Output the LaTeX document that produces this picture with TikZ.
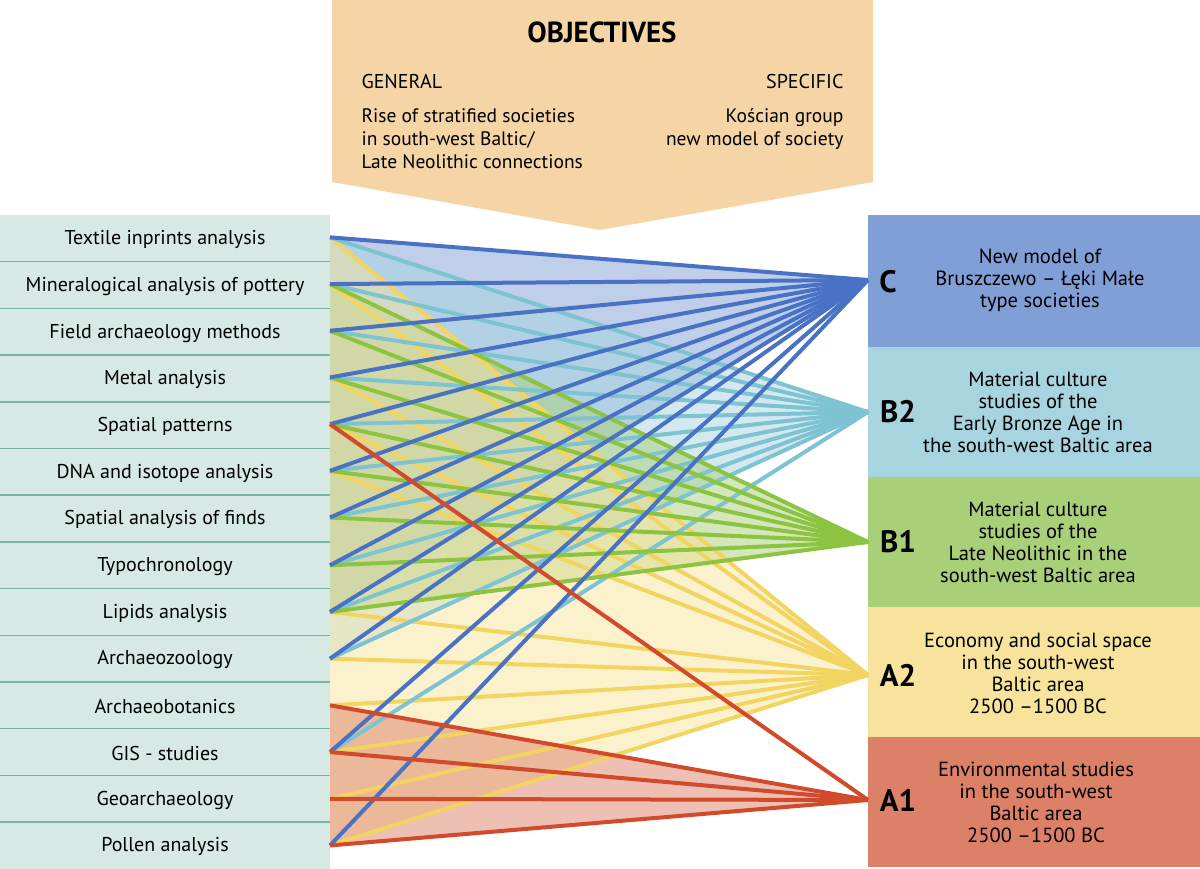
\documentclass[tikz,border=0pt]{standalone}
\usepackage{fontspec}
\setmainfont{PT Sans}
\begin{document}
\begin{tikzpicture}[x=1pt,y=-1pt,
  item/.style={anchor=center,font=\fontsize{20}{22}\selectfont},
  rtxt/.style={align=center,font=\fontsize{20.5}{22}\selectfont},
  letter/.style={font=\bfseries\fontsize{31}{31}\selectfont},
  ln/.style={line width=4pt},
  fl/.style={fill opacity=0.5}]
\definecolor{lbox}{HTML}{D6E9E5}
\definecolor{lsep}{HTML}{7BB1A8}
\definecolor{cC}{HTML}{809FD6}
\definecolor{cB2}{HTML}{A8D4DF}
\definecolor{cB1}{HTML}{A9CF79}
\definecolor{cA2}{HTML}{F7E39C}
\definecolor{cA1}{HTML}{DD8068}
\definecolor{obj}{HTML}{F5D4A6}
\definecolor{lC}{HTML}{4A72C4}
\definecolor{lB2}{HTML}{7DC3D1}
\definecolor{lB1}{HTML}{8CC340}
\definecolor{lA2}{HTML}{F2D461}
\definecolor{lA1}{HTML}{D24A2C}
\useasboundingbox (0,0) rectangle (1200,869);
% objectives
\fill[obj] (332,0) -- (873,0) -- (873,182) -- (600,230) -- (332,182) -- cycle;
\node[font=\bfseries\fontsize{29}{30}\selectfont] (title) at (602,32) {OBJECTIVES};
\node[anchor=west,font=\fontsize{20}{22}\selectfont] (gen) at (358,82) {GENERAL};
\node[anchor=east,font=\fontsize{20}{22}\selectfont] (spec) at (847,82) {SPECIFIC};
\node[anchor=north west,align=left,font=\fontsize{19.5}{23}\selectfont] (gtxt) at (358,105) {Rise of stratified societies\\in south-west Baltic/\\Late Neolithic connections};
\node[anchor=north east,align=right,font=\fontsize{19.5}{23}\selectfont] (stxt) at (847,105) {Kościan group\\new model of society};
% left column
\fill[lbox] (0,215) rectangle (330,869);
\foreach \i in {1,...,13} { \draw[lsep,line width=1.5pt] (0,{215+46.7*\i}) -- (330,{215+46.7*\i}); }
\foreach \t [count=\i] in {Textile inprints analysis,Mineralogical analysis of pottery,Field archaeology methods,Metal analysis,Spatial patterns,DNA and isotope analysis,Spatial analysis of finds,Typochronology,Lipids analysis,Archaeozoology,Archaeobotanics,GIS - studies,Geoarchaeology,Pollen analysis} {
  \node[item] (t\i) at (165,{215+46.7*\i-22}) {\t};
  \coordinate (s\i) at (330,{215+46.7*\i-23.35+(\i<8?-1:0)});
}
% right boxes
\fill[cC] (868,215) rectangle (1200,347);
\fill[cB2] (868,347) rectangle (1200,477);
\fill[cB1] (868,477) rectangle (1200,607);
\fill[cA2] (868,607) rectangle (1200,737);
\fill[cA1] (868,737) rectangle (1200,867);
\coordinate (C) at (868,280);
\coordinate (B2) at (868,412);
\coordinate (B1) at (868,542);
\coordinate (A2) at (868,675);
\coordinate (A1) at (868,800);
\node[letter] (LC) at (888,282) {C};
\node[letter] (LB2) at (898,412) {B2};
\node[letter] (LB1) at (898,542) {B1};
\node[letter] (LA2) at (898,675) {A2};
\node[letter] (LA1) at (898,800) {A1};
\node[rtxt] (xC) at (1040,280) {New model of\\Bruszczewo – Łęki Małe\\type societies};
\node[rtxt] (xB2) at (1038,412) {Material culture\\studies of the\\Early Bronze Age in\\the south-west Baltic area};
\node[rtxt] (xB1) at (1038,542) {Material culture\\studies of the\\Late Neolithic in the\\south-west Baltic area};
\node[rtxt] (xA2) at (1038,673) {Economy and social space\\in the south-west\\Baltic area\\2500 –1500 BC};
\node[rtxt] (xA1) at (1036,802) {Environmental studies\\in the south-west\\Baltic area\\2500 –1500 BC};
% fills
\fill[cC,fl] (s1) -- (C) -- (s9) -- cycle;
\fill[cB2,fl] (s1) -- (B2) -- (s10) -- cycle;
\fill[cB1,fl] (s2) -- (B1) -- (s9) -- cycle;
\fill[cA2,fl] (s1) -- (A2) -- (s14) -- (s9) -- cycle;
\fill[cA1,fl] (s11) -- (A1) -- (s14) -- cycle;
% lines
\foreach \i in {1,2,4,5,6,9,10,11,12,13,14} \draw[ln,lA2] (s\i) -- (A2);
\foreach \i in {1,...,10,12} \draw[ln,lB2] (s\i) -- (B2);
\foreach \i in {2,...,9} \draw[ln,lB1] (s\i) -- (B1);
\foreach \i in {1,...,10,12,14} \draw[ln,lC] (s\i) -- (C);
\foreach \i in {5,11,12,13,14} \draw[ln,lA1] (s\i) -- (A1);
\end{tikzpicture}
\end{document}
